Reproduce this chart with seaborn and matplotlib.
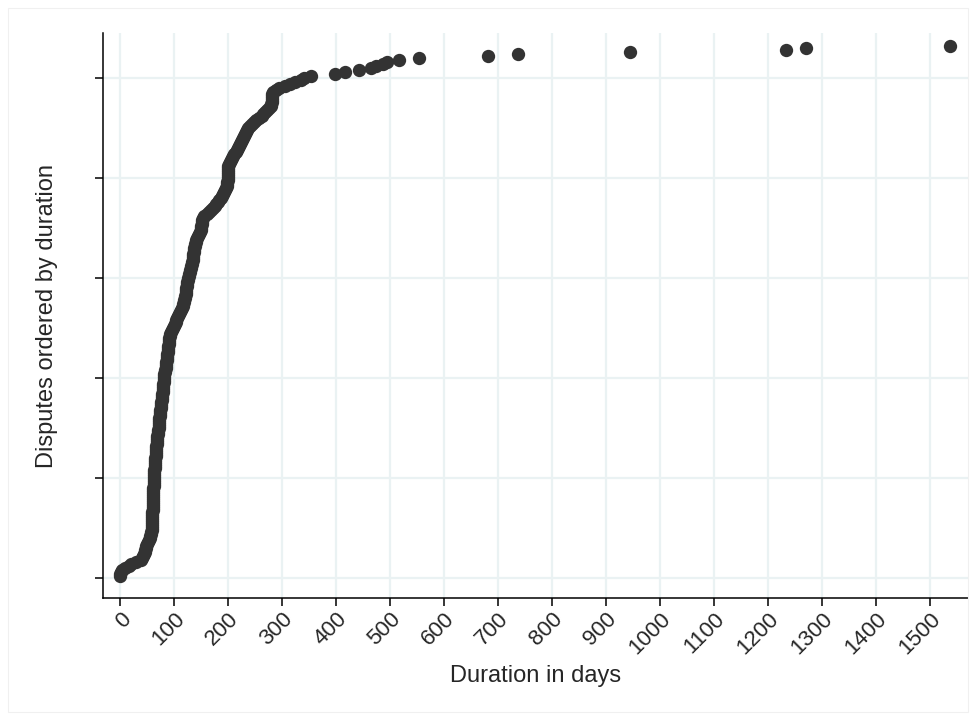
#!/usr/bin/env python3
"""
Disputes ordered by duration - sorted dot plot
"""

import numpy as np
import pandas as pd
import matplotlib
matplotlib.use('Agg')
import matplotlib.pyplot as plt
import seaborn as sns

# Duration of each dispute in days (already sorted)
durations = [
    0, 0, 1, 3, 9, 16, 20, 30, 38, 41, 43, 44, 45, 46, 47, 48, 50, 52, 54, 55, 56,
    57, 57, 58, 58, 58, 58, 59, 59, 59, 59, 59, 59, 60, 60,
    60, 60, 60, 60, 61, 61, 61, 61, 61, 61, 62, 62, 62, 62, 62, 63,
    63, 63, 63, 64, 64, 64, 65, 65, 65,
    66, 66, 66, 67, 67, 67, 68, 68, 68, 69, 69, 70, 70,
    70, 71, 71, 71, 72, 72, 72, 73,
    73, 74, 74, 75, 75, 76, 76, 77, 78,
    78, 78, 79, 79, 79, 80, 80, 81,
    81, 81, 82, 82, 83, 83, 84, 84,
    85, 85, 86, 86, 87,
    87, 88, 88, 89, 89, 90, 90, 91, 91, 92, 93, 94,
    96, 98, 100, 102, 103, 104, 105,
    107, 109, 111, 113, 115, 116, 117, 118, 119, 120,
    120, 121, 121, 122, 122, 123, 123, 124,
    125, 126, 127, 128, 129, 130, 131, 132,
    133, 133, 134, 134, 135, 135, 136, 136, 137,
    138, 139, 140, 141, 142, 144, 146, 148,
    149, 150, 150, 151, 151, 152, 153,
    156, 160, 165, 168, 172, 176,
    178, 181, 183, 186,
    188, 190, 192, 194, 196, 198,
    198, 198, 199, 199, 199, 199, 199, 200, 200,
    200, 201,
    203, 205, 207, 209, 211, 214, 216, 219,
    220, 222, 224, 225, 227, 229, 231, 233, 235, 237,
    240, 244, 248, 252, 257, 262,
    265, 269, 272, 276, 280,
    280, 281, 281, 282, 282, 282, 283,
    288, 295, 305, 315, 323, 334, 341, 353,
    398, 417, 443, 464, 474, 486, 494, 517, 554, 682, 736, 944, 1233, 1270, 1537,
]

x_ticks = list(range(0, 1600, 100))
y_ticks = [0, 50, 100, 150, 200, 250]

GRID = '#EAF2F3'
DOT = '#333333'


def main():
    df = pd.DataFrame({'duration': durations})
    df['order'] = np.arange(1, len(df) + 1)

    sns.set_style('white')
    plt.rcParams['font.family'] = ['Liberation Sans', 'DejaVu Sans']

    fig = plt.figure(figsize=(9.74, 7.2), dpi=100)
    ax = fig.add_axes([0.1057, 0.1694, 0.888, 0.7846])

    sns.scatterplot(data=df, x='duration', y='order', ax=ax,
                    color=DOT, s=92, linewidth=0, zorder=3)

    ax.set_xlim(-32, 1570)
    ax.set_ylim(-9.8, 272.6)

    ax.set_xticks(x_ticks)
    ax.set_xticklabels([str(t) for t in x_ticks], rotation=45, ha='right',
                       va='top', rotation_mode='anchor', fontsize=16)
    ax.set_yticks(y_ticks)
    ax.set_yticklabels([])

    ax.tick_params(axis='both', direction='out', length=6, width=1.1,
                   color='black', bottom=True, left=True, pad=1.5)

    ax.grid(True, color=GRID, linewidth=1.6, zorder=0)
    ax.set_axisbelow(True)

    for side in ['top', 'right']:
        ax.spines[side].set_visible(False)
    for side in ['left', 'bottom']:
        ax.spines[side].set_color('black')
        ax.spines[side].set_linewidth(1.1)

    ax.set_xlabel('Duration in days', fontsize=17)
    ax.set_ylabel('Disputes ordered by duration', fontsize=17)
    ax.xaxis.set_label_coords(0.5, -0.118)
    ax.yaxis.set_label_coords(-0.052, 0.5)

    # faint outer frame around the graph region
    frame = plt.Rectangle((8 / 974, 8 / 720), 960 / 974, 704 / 720,
                          transform=fig.transFigure, fill=False,
                          edgecolor='#F0F0F0', linewidth=0.8)
    fig.patches.append(frame)

    fig.savefig('out.png', dpi=100)
    plt.close(fig)


if __name__ == '__main__':
    main()
